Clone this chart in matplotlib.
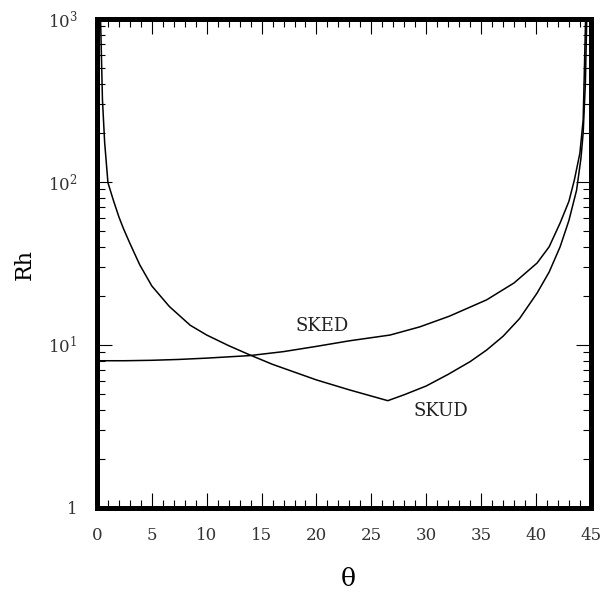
import matplotlib
matplotlib.use('Agg')
import matplotlib.pyplot as plt
from matplotlib.ticker import FixedLocator, LogLocator, NullFormatter

plt.rcParams['font.family'] = ['DejaVu Serif']
plt.rcParams['mathtext.fontset'] = 'dejavuserif'

# curve SKUD (theta in degrees, Rh)
skud_theta = [0.3, 0.5, 0.7, 1.0, 1.5, 2.0, 2.4, 3.0, 3.9, 5.0, 6.6, 8.5, 10.0,
              12.0, 13.9, 16.0, 20.0, 23.0, 26.5, 28.0, 30.0, 32.0, 34.0, 35.5,
              37.0, 38.5, 40.1, 41.2, 42.2, 43.0, 43.7, 44.1, 44.3, 44.5, 44.65]
skud_rh = [1200, 320, 175, 99, 77, 61, 52, 42, 31, 23, 17.2, 13.2, 11.5,
           9.9, 8.7, 7.6, 6.1, 5.3, 4.55, 4.95, 5.6, 6.6, 7.9, 9.3,
           11.3, 14.5, 20.8, 28, 40, 58, 89, 140, 200, 400, 1200]

# curve SKED
sked_theta = [0.0, 2.5, 5.0, 7.5, 10.0, 13.9, 17.0, 20.0, 23.0, 26.7, 29.4, 32.1,
              35.5, 38.0, 40.1, 41.2, 42.2, 43.0, 43.5, 44.0, 44.3, 44.55]
sked_rh = [8.0, 8.0, 8.05, 8.15, 8.3, 8.6, 9.1, 9.8, 10.6, 11.5, 12.9, 15.0,
           18.9, 24.0, 31.8, 40, 56, 76, 103, 150, 240, 1200]

x_ticks = [0, 5, 10, 15, 20, 25, 30, 35, 40, 45]
y_ticks = [1, 10, 100, 1000]
y_ticklabels = ['1', '$10^1$', '$10^2$', '$10^3$']

fig = plt.figure(figsize=(6.06, 5.92), dpi=100)
ax = fig.add_axes([0.160, 0.142, 0.815, 0.826])

ax.plot(skud_theta, skud_rh, color='black', lw=1.1)
ax.plot(sked_theta, sked_rh, color='black', lw=1.1)

ax.set_yscale('log')
ax.set_xlim(0, 45)
ax.set_ylim(1, 1000)

ax.xaxis.set_major_locator(FixedLocator(x_ticks))
ax.xaxis.set_minor_locator(FixedLocator(range(0, 46)))
ax.set_xticklabels([str(t) for t in x_ticks])
ax.yaxis.set_major_locator(FixedLocator(y_ticks))
ax.yaxis.set_minor_locator(LogLocator(base=10, subs=range(2, 10)))
ax.yaxis.set_minor_formatter(NullFormatter())
ax.set_yticklabels(y_ticklabels)

ax.tick_params(which='both', direction='in', top=True, right=True,
               colors='black', labelsize=12, labelcolor='#333333')
ax.tick_params(which='major', length=11, width=0.8, pad=14)
ax.tick_params(which='minor', length=6, width=0.8)

for s in ax.spines.values():
    s.set_linewidth(3.6)

# axis titles placed in figure pixels
fig.text(348 / 606, 1 - 580 / 592, 'θ', fontsize=18, ha='center', va='center')
fig.text(25 / 606, 1 - 264 / 592, 'Rh', fontsize=16, ha='center', va='center',
         rotation=90)

ax.text(20.5, 13.1, 'SKED', fontsize=13, ha='center', va='center', color='#222222')
ax.text(31.3, 3.94, 'SKUD', fontsize=13, ha='center', va='center', color='#222222')

fig.savefig('out.png', dpi=100)
